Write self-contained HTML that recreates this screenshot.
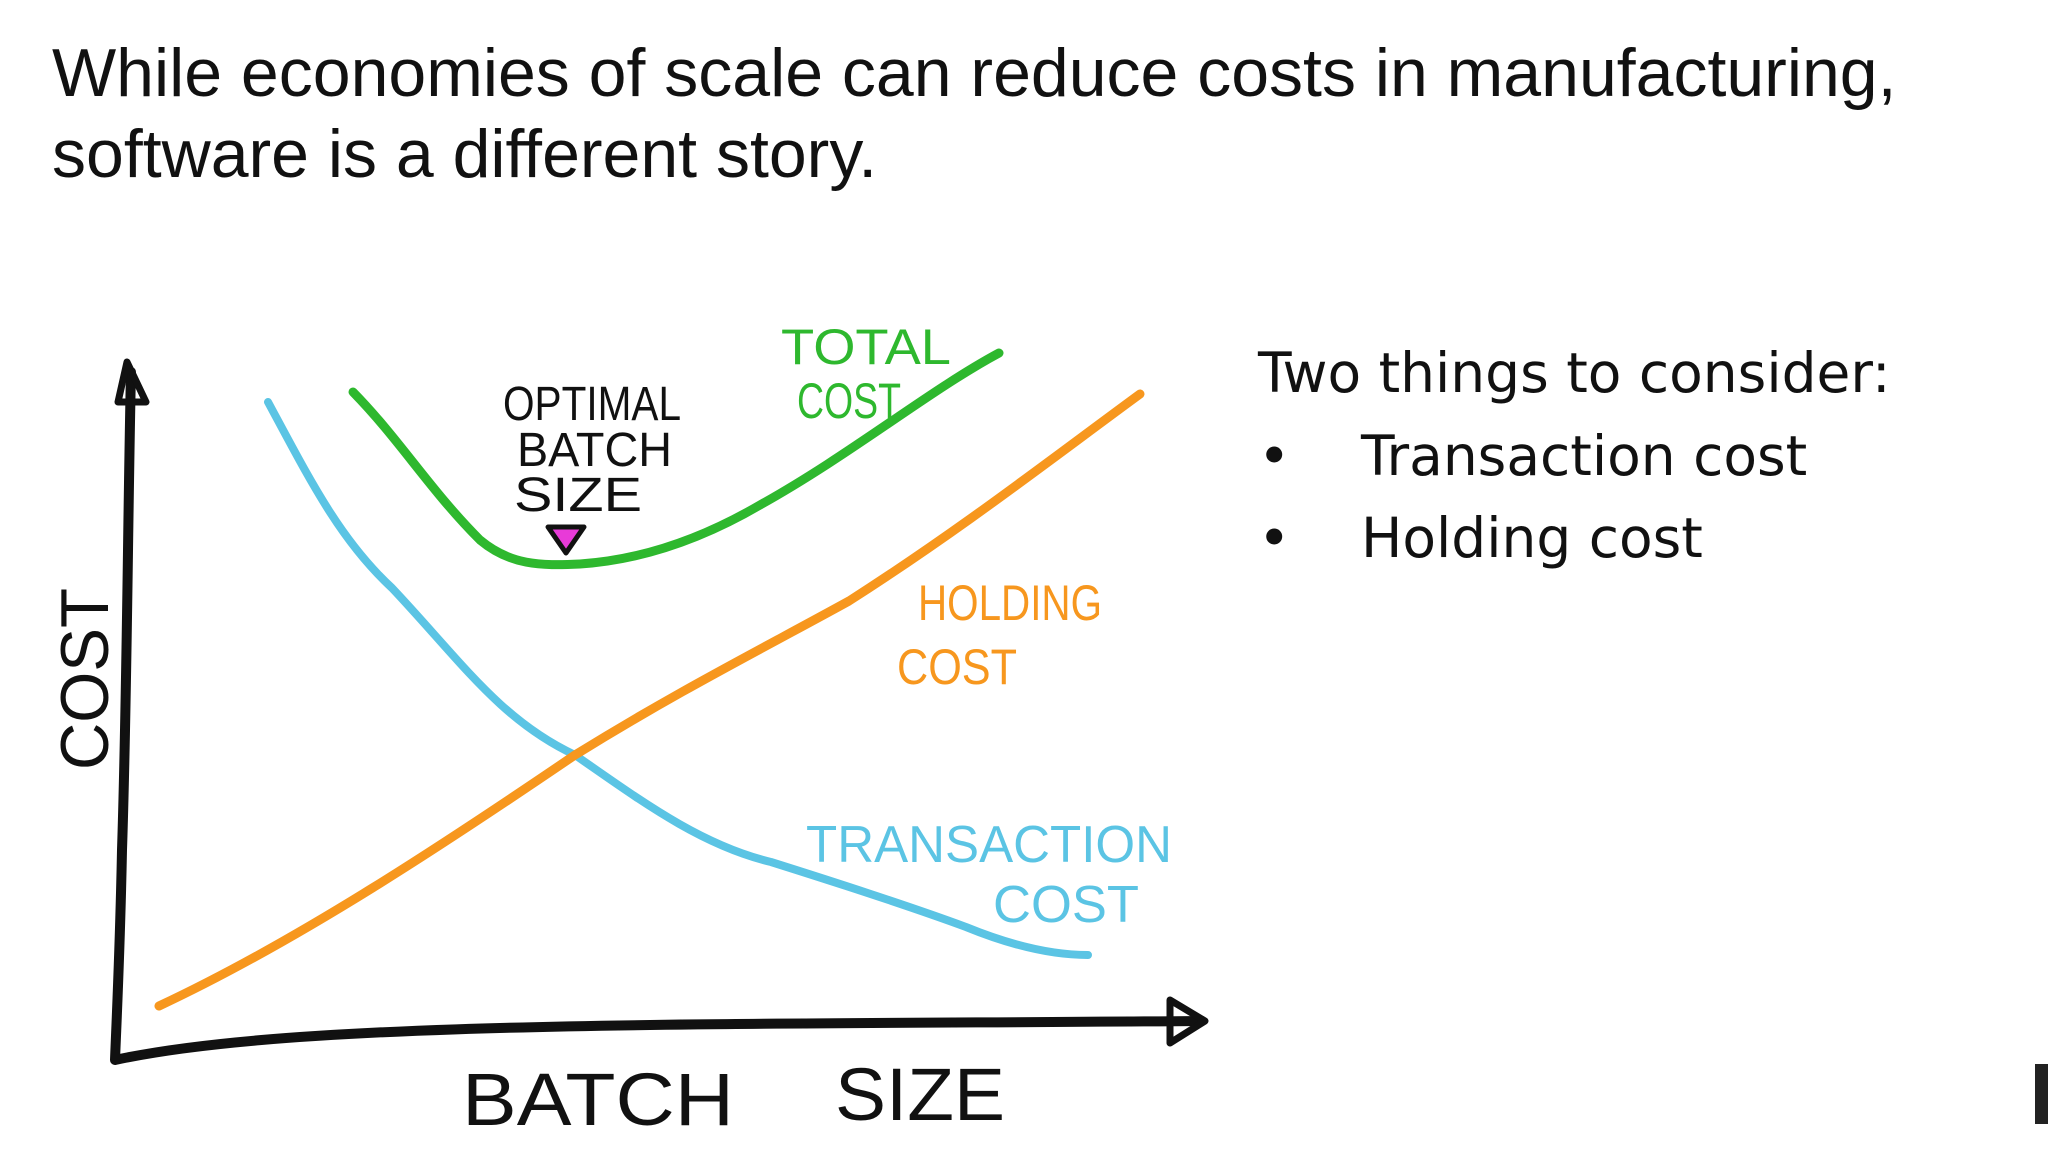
<!DOCTYPE html>
<html><head><meta charset="utf-8"><style>
html,body{margin:0;padding:0;background:#fff;}
svg{display:block}
</style></head><body>
<svg width="2048" height="1152" viewBox="0 0 2048 1152" xmlns="http://www.w3.org/2000/svg">
<rect width="2048" height="1152" fill="#fff"/>
<g font-family="Liberation Sans, sans-serif" font-size="68" fill="#111">
<text x="52" y="96">While economies of scale can reduce costs in manufacturing,</text>
<text x="52" y="177">software is a different story.</text>
</g>
<g font-family="DejaVu Sans, Liberation Sans, sans-serif" font-size="55" fill="#111">
<text x="1258" y="392">Two things to consider:</text>
<text x="1258" y="475">•</text><text x="1361" y="475">Transaction cost</text>
<text x="1258" y="557">•</text><text x="1361" y="557">Holding cost</text>
</g>
<g fill="none" stroke-linecap="round" stroke-linejoin="round">
<path d="M268,402 C310,480 340,540 392,588 C460,660 500,720 575,755 C640,800 700,845 771,862 C860,890 920,910 966,927 C1010,945 1050,955 1088,955" stroke="#5bc4e4" stroke-width="8"/>
<path d="M159,1006 C300,940 450,840 575,755 C680,690 760,650 849,601 C960,530 1050,460 1140,394" stroke="#f7971e" stroke-width="9"/>
<path d="M353,392 C400,440 430,490 480,540 C510,565 540,566 580,564 C640,560 700,540 760,505 C850,455 930,390 999,353" stroke="#2eb82e" stroke-width="9"/>
<path d="M131,372 C128,500 127,700 122,850 C120,950 117,1010 115,1060 C300,1020 700,1025 1202,1021" stroke="#111" stroke-width="10"/>
<path d="M118,402 L127,362 L146,402 Z" stroke="#111" stroke-width="7"/>
<path d="M1170,1000 L1205,1021 L1170,1043 Z" stroke="#111" stroke-width="7"/>
</g>
<path d="M548,527 L584,527 L566,553 Z" fill="#e83ad8" stroke="#111" stroke-width="5" stroke-linejoin="round"/>
<g font-family="Liberation Sans Narrow, Liberation Sans, sans-serif">
<g font-size="48" fill="#111">
<text x="503" y="420" textLength="178" lengthAdjust="spacingAndGlyphs">OPTIMAL</text>
<text x="517" y="466" textLength="155" lengthAdjust="spacingAndGlyphs">BATCH</text>
<text x="514" y="511" textLength="128" lengthAdjust="spacingAndGlyphs">SIZE</text>
</g>
<g font-size="50" fill="#2eb82e">
<text x="781" y="364" textLength="170" lengthAdjust="spacingAndGlyphs">TOTAL</text>
<text x="797" y="418" textLength="104" lengthAdjust="spacingAndGlyphs">COST</text>
</g>
<g font-size="50" fill="#f7971e">
<text x="918" y="620" textLength="184" lengthAdjust="spacingAndGlyphs">HOLDING</text>
<text x="897" y="684" textLength="120" lengthAdjust="spacingAndGlyphs">COST</text>
</g>
<g font-size="52" fill="#5bc4e4">
<text x="806" y="862" textLength="366" lengthAdjust="spacingAndGlyphs">TRANSACTION</text>
<text x="993" y="922" textLength="146" lengthAdjust="spacingAndGlyphs">COST</text>
</g>
<text x="0" y="0" font-size="68" fill="#111" transform="translate(108,770) rotate(-90)" textLength="182" lengthAdjust="spacingAndGlyphs">COST</text>
<g font-size="74" fill="#111">
<text x="462" y="1125" textLength="272" lengthAdjust="spacingAndGlyphs">BATCH</text>
<text x="835" y="1120" textLength="170" lengthAdjust="spacingAndGlyphs">SIZE</text>
</g>
</g>
<rect x="2035" y="1064" width="13" height="60" fill="#222"/>
</svg>
</body></html>
